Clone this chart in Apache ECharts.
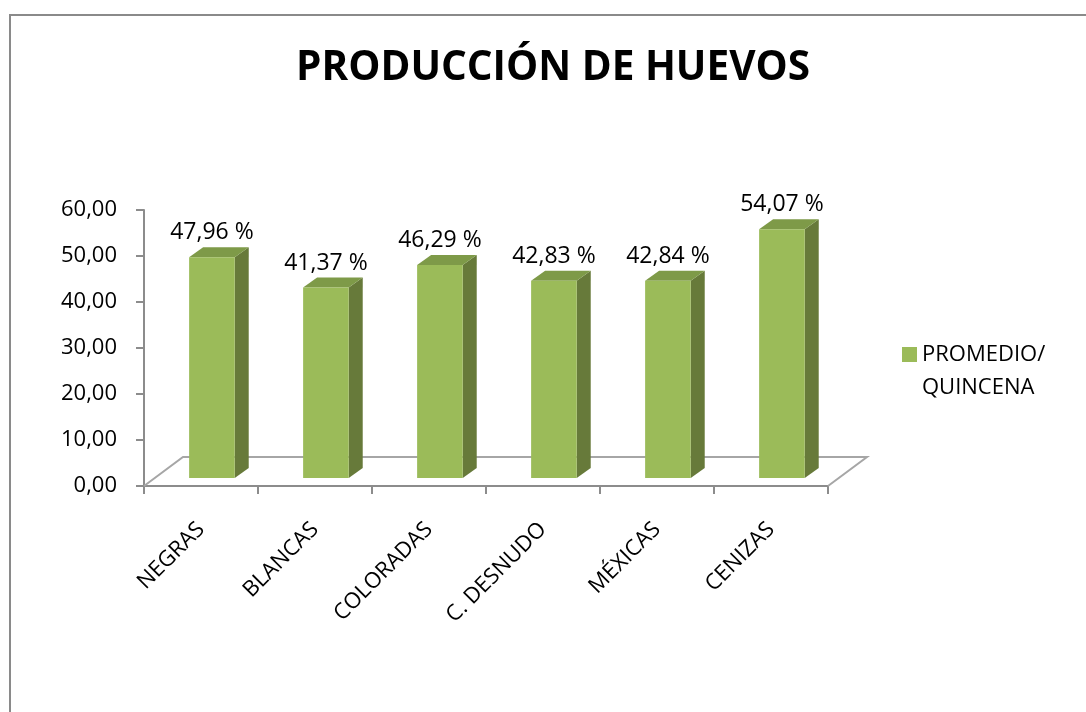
<!DOCTYPE html>
<html>
<head>
<meta charset="utf-8">
<title>Producción de huevos</title>
<script src="https://cdn.jsdelivr.net/npm/echarts@6/dist/echarts.min.js"></script>
<style>
  html, body { margin: 0; padding: 0; background: #ffffff; }
  #chart { width: 1086px; height: 712px; }
</style>
</head>
<body>
<div id="chart"></div>
<script>
// Egg production per hen group (average per fortnight, %)
const categories = ['NEGRAS', 'BLANCAS', 'COLORADAS', 'C. DESNUDO', 'MÉXICAS', 'CENIZAS'];
const promedioQuincena = [47.96, 41.37, 46.29, 42.83, 42.84, 54.07];
const yTicks = [0, 10, 20, 30, 40, 50, 60];
const seriesName = 'PROMEDIO/\nQUINCENA';

// Look of the pseudo-3D bars and floor
const FONT = '"Open Sans", "Noto Sans", sans-serif';
const FRONT = '#9BBB59';
const SIDE = '#677A3A';
const TOP = '#7E9A48';
const FLOOR_DX = 39;      // depth of the floor, horizontal
const FLOOR_DY = -29;     // depth of the floor, vertical
const BAR_SHIFT = 0.28;   // bars sit this far into the floor depth
const BAR_RATIO = 0.40;   // bar width relative to a category band
const SIDE_DX = 14;       // bar depth, horizontal
const SIDE_DY = -10;      // bar depth, vertical
const AXIS_GREY = '#8C8C8C';
const FLOOR_GREY = '#A6A6A6';

const fmt = v => v.toFixed(2).replace('.', ',');

function renderFloor(params, api) {
  const cs = params.coordSys;
  const x0 = cs.x, x1 = cs.x + cs.width, y = cs.y + cs.height;
  return {
    type: 'polyline',
    shape: {
      points: [
        [x0, y],
        [x0 + FLOOR_DX, y + FLOOR_DY],
        [x1 + FLOOR_DX, y + FLOOR_DY],
        [x1, y]
      ]
    },
    style: { stroke: FLOOR_GREY, lineWidth: 2, fill: null },
    silent: true
  };
}

function renderBar(params, api) {
  const idx = api.value(0);
  const v = api.value(1);
  const base = api.coord([idx, 0]);
  const top = api.coord([idx, v]);
  const w = api.size([1, 0])[0] * BAR_RATIO;
  const cx = base[0] + FLOOR_DX * BAR_SHIFT;
  const x0 = cx - w / 2, x1 = cx + w / 2;
  const yb = base[1] + FLOOR_DY * BAR_SHIFT;
  const yt = top[1] + FLOOR_DY * BAR_SHIFT;
  return {
    type: 'group',
    children: [
      {
        type: 'polygon',
        shape: { points: [[x1, yt], [x1 + SIDE_DX, yt + SIDE_DY], [x1 + SIDE_DX, yb + SIDE_DY], [x1, yb]] },
        style: { fill: SIDE }
      },
      {
        type: 'polygon',
        shape: { points: [[x0, yt], [x0 + SIDE_DX, yt + SIDE_DY], [x1 + SIDE_DX, yt + SIDE_DY], [x1, yt]] },
        style: { fill: TOP }
      },
      {
        type: 'rect',
        shape: { x: x0, y: yt, width: w, height: yb - yt },
        style: { fill: FRONT }
      },
      {
        type: 'text',
        x: cx,
        y: yt + SIDE_DY - 3,
        style: {
          text: fmt(v) + ' %',
          align: 'center',
          verticalAlign: 'bottom',
          fill: '#000000',
          font: '23px ' + FONT
        }
      }
    ]
  };
}

const chart = echarts.init(document.getElementById('chart'), null, { renderer: 'canvas' });

chart.setOption({
  backgroundColor: '#ffffff',
  animation: false,
  textStyle: { fontFamily: FONT },
  title: {
    text: 'PRODUCCIÓN DE HUEVOS',
    left: 296,
    top: 48,
    padding: 0,
    textStyle: { fontFamily: FONT, fontWeight: 'bold', fontSize: 40.5, color: '#000000' }
  },
  legend: {
    data: [{ name: seriesName, icon: 'rect' }],
    left: 897,
    top: 300,
    orient: 'vertical',
    itemWidth: 15,
    itemHeight: 15,
    selectedMode: false,
    // leading blank line keeps the swatch level with the first text line
    formatter: name => '\n' + name,
    textStyle: {
      fontFamily: FONT,
      fontSize: 22,
      lineHeight: 33,
      color: '#000000'
    }
  },
  graphic: [
    {
      type: 'polyline',
      shape: { points: [[10, 720], [10, 15], [1095, 15]] },
      style: { stroke: '#8A8A8A', lineWidth: 2, fill: null },
      silent: true
    }
  ],
  grid: { left: 144, right: 258, top: 210, bottom: 226, containLabel: false },
  xAxis: {
    type: 'category',
    data: categories,
    boundaryGap: true,
    axisLine: { lineStyle: { color: AXIS_GREY, width: 2 } },
    axisTick: { show: true, length: 8, lineStyle: { color: AXIS_GREY, width: 2 } },
    axisLabel: {
      rotate: 45,
      interval: 0,
      margin: 40,
      fontFamily: FONT,
      fontSize: 22,
      color: '#000000'
    },
    splitLine: { show: false }
  },
  yAxis: {
    type: 'value',
    min: yTicks[0],
    max: yTicks[yTicks.length - 1],
    interval: yTicks[1] - yTicks[0],
    axisLine: { show: true, lineStyle: { color: AXIS_GREY, width: 2 } },
    axisTick: { show: true, length: 8, lineStyle: { color: AXIS_GREY, width: 2 } },
    axisLabel: {
      margin: 27,
      fontFamily: FONT,
      fontSize: 22,
      color: '#000000',
      formatter: v => fmt(v)
    },
    splitLine: { show: false }
  },
  series: [
    {
      type: 'custom',
      name: 'floor',
      renderItem: renderFloor,
      data: [[0, 0]],
      z: 1,
      silent: true
    },
    {
      type: 'custom',
      name: seriesName,
      itemStyle: { color: FRONT },
      renderItem: renderBar,
      encode: { x: 0, y: 1 },
      data: promedioQuincena.map((v, i) => [i, v]),
      z: 2
    }
  ]
});
</script>
</body>
</html>
